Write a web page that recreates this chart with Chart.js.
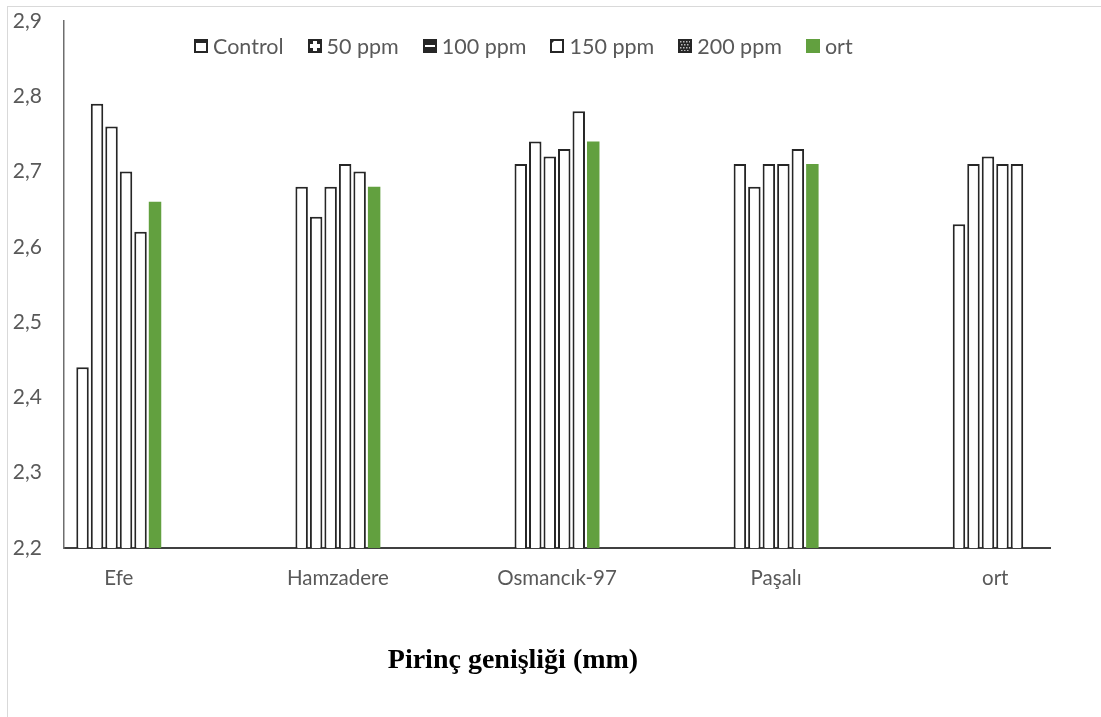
<!DOCTYPE html>
<html>
<head>
<meta charset="utf-8">
<title>Pirinç genişliği</title>
<script src="https://cdn.jsdelivr.net/npm/chart.js@4"></script>
<style>
  html, body { margin: 0; padding: 0; background: #fff; overflow: hidden; }
  #frame { position: absolute; left: 7px; top: 6px; width: 1300px; height: 900px; border: 1px solid #d9d9d9; }
  #wrap { position: absolute; left: 0; top: 0; width: 1101px; height: 717px; }
  #legend { position: absolute; left: 194px; top: 34px; height: 24px; display: flex; align-items: center;
            font-family: Lato, sans-serif; font-size: 21.5px; color: #595959; }
  #legend .item { display: flex; align-items: center; margin-right: 24px; white-space: nowrap; }
  #legend canvas { margin-right: 5px; }
  #caption { position: absolute; left: 0; top: 643px; width: 1026px; text-align: center;
             font: bold 28px "Liberation Serif", serif; color: #000; }
</style>
</head>
<body>
<div id="frame"></div>
<div id="wrap">
  <canvas id="widthChart" width="1101" height="717"></canvas>
</div>
<div id="legend"></div>
<div id="caption">Pirinç genişliği (mm)</div>

<script>
// varieties on the x axis
const categories = ['Efe', 'Hamzadere', 'Osmancık-97', 'Paşalı', 'ort'];
const seriesNames = ['Control', '50 ppm', '100 ppm', '150 ppm', '200 ppm', 'ort'];

// grain width (mm) per treatment
const control = [2.44, 2.68, 2.71, 2.71, 2.63];
const ppm50   = [2.79, 2.64, 2.74, 2.68, 2.71];
const ppm100  = [2.76, 2.68, 2.72, 2.71, 2.72];
const ppm150  = [2.70, 2.71, 2.73, 2.71, 2.71];
const ppm200  = [2.62, 2.70, 2.78, 2.73, 2.71];
const ortSeries = [2.66, 2.68, 2.74, 2.71, null];

const yMin = 2.2;
const yMax = 2.9;

Chart.defaults.font.family = 'Lato, sans-serif';
Chart.defaults.color = '#595959';

function toPoints(arr) {
  return arr.map((v, i) => ({ x: i, y: v }));
}

var outline = '#262626';
var green = '#62a03f';
var iconKinds = ['topBand', 'dots', 'stripes', 'corner', 'checker', 'solid'];

var datasets = [control, ppm50, ppm100, ppm150, ppm200].map((arr, i) => ({
  label: seriesNames[i],
  data: toPoints(arr),
  backgroundColor: '#ffffff',
  borderColor: outline,
  borderWidth: 2
}));
datasets.push({
  label: seriesNames[5],
  data: toPoints(ortSeries),
  backgroundColor: green,
  borderWidth: 0
});

var ctx = document.getElementById('widthChart').getContext('2d');
var chart = new Chart(ctx, {
  type: 'bar',
  data: { datasets: datasets },
  options: {
    responsive: false,
    animation: false,
    layout: { padding: { left: 10, right: 51, top: 21, bottom: 121 } },
    datasets: {
      bar: { categoryPercentage: 0.397, barPercentage: 0.86 }
    },
    plugins: {
      legend: { display: false },
      tooltip: { enabled: false }
    },
    scales: {
      x: {
        type: 'linear',
        min: -0.25,
        max: 4.25,
        offset: false,
        grid: { display: false, drawTicks: false },
        border: { display: true, color: '#404040', width: 2 },
        ticks: {
          stepSize: 1,
          includeBounds: false,
          autoSkip: false,
          maxRotation: 0,
          padding: 18,
          font: { size: 20.5 },
          callback: v => categories[v] !== undefined ? categories[v] : ''
        },
        afterFit: scale => { scale.height = 48; }
      },
      y: {
        min: yMin,
        max: yMax,
        grid: { display: false, drawTicks: false },
        border: { display: true, color: '#6e6e6e', width: 1.5 },
        ticks: {
          stepSize: 0.1,
          padding: 22,
          font: { size: 21 },
          callback: v => v.toFixed(1).replace('.', ',')
        },
        afterFit: scale => {
          scale.width = 54;
          // tick padding would otherwise push the plot top down
          scale.paddingTop = 0;
          scale.paddingBottom = 0;
        }
      }
    }
  }
});

// small pattern swatches for the legend
function legendIcon(kind, color) {
  var c = document.createElement('canvas');
  c.width = 14; c.height = 14;
  var g = c.getContext('2d');
  if (kind === 'solid') {
    g.fillStyle = color;
    g.fillRect(0, 0, 14, 14);
    return c;
  }
  g.fillStyle = '#fff';
  g.fillRect(0, 0, 14, 14);
  g.fillStyle = outline;
  if (kind === 'topBand') {
    g.fillRect(0, 0, 14, 4);
  } else if (kind === 'dots') {
    [[2, 2], [9, 2], [2, 9], [9, 9]].forEach(p => g.fillRect(p[0], p[1], 3, 3));
  } else if (kind === 'stripes') {
    g.fillRect(0, 0, 14, 14);
    g.fillStyle = '#fff';
    g.fillRect(2, 6, 10, 2);
  } else if (kind === 'corner') {
    g.beginPath();
    g.moveTo(0, 0); g.lineTo(6, 0); g.lineTo(0, 6);
    g.fill();
  } else if (kind === 'checker') {
    g.fillRect(0, 0, 14, 14);
    g.fillStyle = '#bbb';
    for (var y = 2; y < 12; y += 3) {
      for (var x = 2 + (y % 2); x < 12; x += 3) g.fillRect(x, y, 1.5, 1.5);
    }
  }
  g.strokeStyle = outline;
  g.lineWidth = 2;
  g.strokeRect(1, 1, 12, 12);
  return c;
}

var legendBox = document.getElementById('legend');
chart.data.datasets.forEach((ds, i) => {
  var item = document.createElement('div');
  item.className = 'item';
  item.appendChild(legendIcon(iconKinds[i], ds.backgroundColor));
  var txt = document.createElement('span');
  txt.textContent = ds.label;
  item.appendChild(txt);
  legendBox.appendChild(item);
});
</script>
</body>
</html>
